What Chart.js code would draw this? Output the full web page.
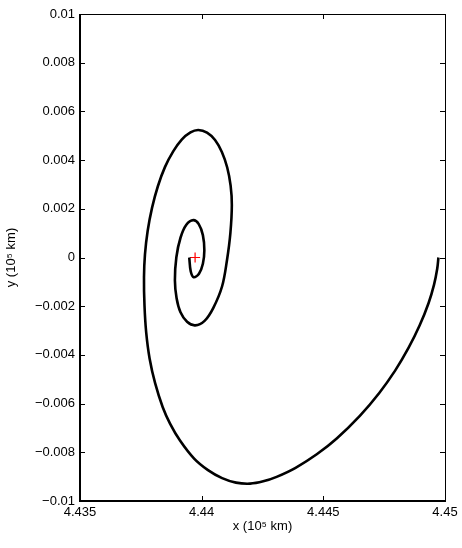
<!DOCTYPE html>
<html lang="en">
<head>
  <meta charset="UTF-8">
  <title>Spiral trajectory</title>
  <script src="https://cdn.jsdelivr.net/npm/chart.js@4"></script>
  <style>
    html, body { margin: 0; padding: 0; background: #fff; }
    #wrap { width: 462px; height: 548px; position: relative; }
  </style>
</head>
<body>
  <div id="wrap"><canvas id="spiral"></canvas></div>

  <script>
    // trajectory, units 10^5 km (outer arc -> inner end)
    const pathX = [
      4.44973, 4.44968, 4.44955, 4.44933, 4.44896, 4.44850, 4.44795, 4.44729, 4.44650, 4.44555,
      4.44473, 4.44386, 4.44308, 4.44253, 4.44199, 4.44141, 4.44084, 4.44026, 4.43969, 4.43911,
      4.43870, 4.43840, 4.43809, 4.43786, 4.43772, 4.43765, 4.43763, 4.43767, 4.43778, 4.43796,
      4.43820, 4.43849, 4.43883, 4.43918, 4.43954, 4.43986, 4.44022, 4.44055, 4.44083, 4.44105,
      4.44119, 4.44124, 4.44118, 4.44104, 4.44084, 4.44048, 4.44012, 4.43973, 4.43940, 4.43913,
      4.43897, 4.43890, 4.43896, 4.43913, 4.43937, 4.43966, 4.43988, 4.44005, 4.44011, 4.44005,
      4.43989, 4.43967, 4.43955, 4.43949];
    const pathY = [
      0, -0.000465, -0.001115, -0.001856, -0.002786, -0.003716, -0.004646, -0.005572, -0.006502, -0.007432,
      -0.008082, -0.008637, -0.009008, -0.009193, -0.009288, -0.009246, -0.009061, -0.008732, -0.008259, -0.007518,
      -0.006819, -0.006148, -0.005173, -0.004144, -0.003074, -0.001963, -0.000811, 0.000128, 0.001086, 0.002037,
      0.002926, 0.003712, 0.004358, 0.004843, 0.00514, 0.005238, 0.005131, 0.004827, 0.004333, 0.003695,
      0.00295, 0.002152, 0.001, -0.000111, -0.001181, -0.002066, -0.002601, -0.002786, -0.002642, -0.002251,
      -0.001675, -0.000934, 0.000012, 0.000811, 0.001346, 0.001535, 0.00137, 0.000918, 0.0003, -0.000255,
      -0.000663, -0.000811, -0.000568, 0];
    const centreX = [4.43973];
    const centreY = [0];

    const xTicks = [4.435, 4.44, 4.445, 4.45];
    const yTicks = [-0.01, -0.008, -0.006, -0.004, -0.002, 0, 0.002, 0.004, 0.006, 0.008, 0.01];

    const fmt = v => parseFloat((+v).toFixed(4)).toString().replace('-', '\u2212');
    const font = { family: 'Liberation Sans, Arial, Helvetica, sans-serif', size: 13 };

    // matlab-style box with inward ticks on all four sides
    const boxPlugin = {
      id: 'box',
      afterDraw(chart) {
        const { ctx, chartArea: a, scales } = chart;
        ctx.save();
        ctx.strokeStyle = '#000';
        ctx.lineWidth = 1;
        const len = 5;
        ctx.beginPath();
        xTicks.forEach(v => {
          const px = Math.round(scales.x.getPixelForValue(v)) + 0.5;
          ctx.moveTo(px, a.bottom); ctx.lineTo(px, a.bottom - len);
          ctx.moveTo(px, a.top); ctx.lineTo(px, a.top + len);
        });
        yTicks.forEach(v => {
          const py = Math.round(scales.y.getPixelForValue(v)) + 0.5;
          ctx.moveTo(a.left, py); ctx.lineTo(a.left + len, py);
          ctx.moveTo(a.right, py); ctx.lineTo(a.right - len, py);
        });
        ctx.stroke();
        ctx.strokeRect(Math.round(a.left) + 0.5, Math.round(a.top) + 0.5,
          Math.round(a.right - a.left), Math.round(a.bottom - a.top));
        ctx.lineWidth = 2;
        ctx.beginPath();
        ctx.moveTo(a.left, a.top); ctx.lineTo(a.left, a.bottom); ctx.lineTo(a.right, a.bottom);
        ctx.stroke();
        ctx.restore();
      }
    };

    new Chart(document.getElementById('spiral'), {
      type: 'scatter',
      data: {
        datasets: [{
          data: pathX.map((x, i) => ({ x, y: pathY[i] })),
          showLine: true,
          borderColor: '#000',
          borderWidth: 2.6,
          pointRadius: 0,
          tension: 0.35,
          fill: false
        }, {
          data: centreX.map((x, i) => ({ x, y: centreY[i] })),
          pointStyle: 'cross',
          pointRadius: 5,
          borderColor: '#ff0000',
          borderWidth: 1.2,
          backgroundColor: '#ff0000'
        }]
      },
      options: {
        responsive: true,
        maintainAspectRatio: false,
        animation: false,
        layout: { padding: { top: 14, right: 17, left: 0, bottom: 10 } },
        plugins: { legend: { display: false }, tooltip: { enabled: false } },
        scales: {
          x: {
            type: 'linear', min: 4.435, max: 4.45,
            afterBuildTicks: s => { s.ticks = xTicks.map(v => ({ value: v })); },
            afterFit: s => { s.height = 37; },
            grid: { display: false, drawTicks: false },
            border: { display: false },
            ticks: { color: '#000', font, padding: 4, callback: fmt, maxRotation: 0 },
            title: { display: true, text: 'x (10\u2075 km)', color: '#000', font, padding: { top: 0 } }
          },
          y: {
            type: 'linear', min: -0.01, max: 0.01,
            afterBuildTicks: s => { s.ticks = yTicks.map(v => ({ value: v })); },
            afterFit: s => { s.width = 80; },
            grid: { display: false, drawTicks: false },
            border: { display: false },
            ticks: { color: '#000', font, padding: 5, callback: fmt },
            title: { display: true, text: 'y (10\u2075 km)', color: '#000', font, padding: { bottom: 0 } }
          }
        }
      },
      plugins: [boxPlugin]
    });
  </script>
</body>
</html>
